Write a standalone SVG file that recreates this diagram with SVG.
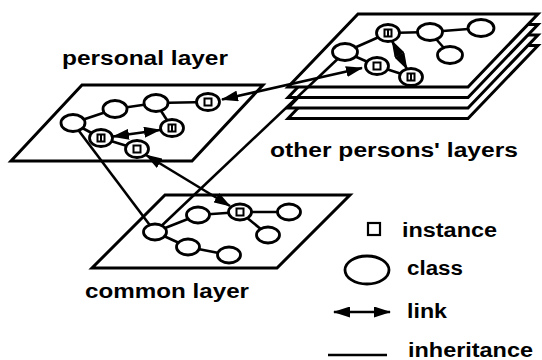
<svg xmlns="http://www.w3.org/2000/svg" width="542" height="360" viewBox="0 0 542 360">
  <defs>
    <marker id="head" viewBox="0 0 17 11" refX="16" refY="5.5" markerWidth="17" markerHeight="11" markerUnits="userSpaceOnUse" orient="auto-start-reverse">
      <path d="M0,0 L17,5.5 L0,11 z" fill="#000"/>
    </marker>
  </defs>
  <style>
    .sheet { fill: #fff; stroke: #000; stroke-width: 3; stroke-linejoin: miter; }
    .inh { stroke: #000; stroke-width: 2.6; fill: none; }
    .lnk { stroke: #000; stroke-width: 2.6; fill: none; marker-start: url(#head); marker-end: url(#head); }
    .cls { fill: #fff; stroke: #000; stroke-width: 2.8; }
    .box { fill: none; stroke: #000; stroke-width: 2; }
    .lbl { font-family: "Liberation Sans", Arial, sans-serif; font-weight: bold; font-size: 20px; fill: #000; }
  </style>

  <!-- layer planes -->
  <g id="other-layers">
    <polygon class="sheet" points="358,45.5 538,45.5 468,118.5 288,118.5"/>
    <polygon class="sheet" points="358,35 538,35 468,108 288,108"/>
    <polygon class="sheet" points="358,24.5 538,24.5 468,97.5 288,97.5"/>
    <polygon class="sheet" points="358,14 538,14 468,87 288,87"/>
  </g>
  <g id="personal-layer">
    <polygon class="sheet" points="82,85 263,85 192,161 11,161"/>
  </g>
  <g id="common-layer">
    <polygon class="sheet" points="165,195 350,195 277,268 92,268"/>
  </g>

  <!-- inheritance and link connectors -->
  <g id="connectors">
    <line class="inh" x1="73" y1="123" x2="115" y2="109"/>
    <line class="inh" x1="115" y1="109" x2="156" y2="103"/>
    <line class="inh" x1="156" y1="103" x2="208" y2="102"/>
    <line class="inh" x1="156" y1="103" x2="172" y2="128"/>
    <line class="inh" x1="73" y1="123" x2="101" y2="138"/>
    <line class="inh" x1="101" y1="138" x2="137" y2="149"/>

    <line class="inh" x1="73" y1="123" x2="155" y2="232"/>
    <line class="inh" x1="345" y1="52" x2="155" y2="232"/>

    <line class="inh" x1="155" y1="232" x2="198" y2="215"/>
    <line class="inh" x1="198" y1="215" x2="240" y2="212"/>
    <line class="inh" x1="240" y1="212" x2="289" y2="212"/>
    <line class="inh" x1="240" y1="212" x2="268" y2="235"/>
    <line class="inh" x1="155" y1="232" x2="188" y2="247"/>
    <line class="inh" x1="188" y1="247" x2="229" y2="255"/>

    <line class="inh" x1="345" y1="52" x2="388" y2="33"/>
    <line class="inh" x1="388" y1="33" x2="430" y2="32"/>
    <line class="inh" x1="430" y1="32" x2="481" y2="28"/>
    <line class="inh" x1="430" y1="32" x2="450" y2="55"/>
    <line class="inh" x1="345" y1="52" x2="377" y2="66"/>
    <line class="inh" x1="377" y1="66" x2="411" y2="77"/>

    <line class="lnk" x1="222" y1="99.5" x2="362" y2="68"/>
    <line class="lnk" x1="113" y1="136.5" x2="160" y2="130"/>
    <line class="lnk" x1="146" y1="155" x2="230" y2="206"/>
    <line class="lnk" x1="392" y1="41" x2="407" y2="69"/>
  </g>

  <!-- personal layer nodes -->
  <g id="p-class-1"><ellipse class="cls" cx="73" cy="123" rx="12" ry="8.5"/></g>
  <g id="p-class-2"><ellipse class="cls" cx="115" cy="109" rx="12" ry="8.5"/></g>
  <g id="p-class-3"><ellipse class="cls" cx="156" cy="103" rx="12" ry="8.5"/></g>
  <g id="p-inst-1"><ellipse class="cls" cx="208" cy="102" rx="11.5" ry="8.5"/><rect class="box" x="204.5" y="98.5" width="7" height="7"/></g>
  <g id="p-inst-2"><ellipse class="cls" cx="172" cy="128" rx="11.5" ry="8.5"/><rect class="box" x="168.5" y="124.5" width="7" height="7"/><line class="box" x1="172" y1="124.5" x2="172" y2="131.5"/></g>
  <g id="p-inst-3"><ellipse class="cls" cx="101" cy="138" rx="11.5" ry="8.5"/><rect class="box" x="97.5" y="134.5" width="7" height="7"/><line class="box" x1="101" y1="134.5" x2="101" y2="141.5"/></g>
  <g id="p-inst-4"><ellipse class="cls" cx="137" cy="149" rx="11.5" ry="8.5"/><rect class="box" x="133.5" y="145.5" width="7" height="7"/></g>

  <!-- other persons' layer nodes -->
  <g id="o-class-1"><ellipse class="cls" cx="345" cy="52" rx="12.5" ry="8.5"/></g>
  <g id="o-class-2"><ellipse class="cls" cx="430" cy="32" rx="12.5" ry="8.5"/></g>
  <g id="o-class-3"><ellipse class="cls" cx="481" cy="28" rx="13" ry="8.5"/></g>
  <g id="o-class-4"><ellipse class="cls" cx="450" cy="55" rx="12.5" ry="8.5"/></g>
  <g id="o-inst-1"><ellipse class="cls" cx="388" cy="33" rx="11.5" ry="8.5"/><rect class="box" x="384.5" y="29.5" width="7" height="7"/><line class="box" x1="388" y1="29.5" x2="388" y2="36.5"/></g>
  <g id="o-inst-2"><ellipse class="cls" cx="377" cy="66" rx="11.5" ry="8.5"/><rect class="box" x="373.5" y="62.5" width="7" height="7"/></g>
  <g id="o-inst-3"><ellipse class="cls" cx="411" cy="77" rx="11.5" ry="8.5"/><rect class="box" x="407.5" y="73.5" width="7" height="7"/><line class="box" x1="411" y1="73.5" x2="411" y2="80.5"/></g>

  <!-- common layer nodes -->
  <g id="c-class-1"><ellipse class="cls" cx="155" cy="232" rx="11.5" ry="8"/></g>
  <g id="c-class-2"><ellipse class="cls" cx="198" cy="215" rx="11.5" ry="8"/></g>
  <g id="c-class-3"><ellipse class="cls" cx="289" cy="212" rx="11.5" ry="8"/></g>
  <g id="c-class-4"><ellipse class="cls" cx="268" cy="235" rx="11.5" ry="8"/></g>
  <g id="c-class-5"><ellipse class="cls" cx="188" cy="247" rx="11.5" ry="8"/></g>
  <g id="c-class-6"><ellipse class="cls" cx="229" cy="255" rx="11.5" ry="8"/></g>
  <g id="c-inst-1"><ellipse class="cls" cx="240" cy="212" rx="11.5" ry="8"/><rect class="box" x="236.5" y="208.5" width="7" height="7"/></g>

  <!-- layer titles -->
  <text class="lbl" x="62" y="65" textLength="166" lengthAdjust="spacingAndGlyphs">personal  layer</text>
  <text class="lbl" x="270" y="157" textLength="248" lengthAdjust="spacingAndGlyphs">other persons' layers</text>
  <text class="lbl" x="85" y="298" textLength="164" lengthAdjust="spacingAndGlyphs">common  layer</text>

  <!-- legend -->
  <g id="legend">
    <rect x="368" y="223" width="12" height="12" fill="none" stroke="#000" stroke-width="2.2"/>
    <text class="lbl" x="402" y="237" textLength="95" lengthAdjust="spacingAndGlyphs">instance</text>
    <ellipse class="cls" cx="367" cy="270" rx="22" ry="14"/>
    <text class="lbl" x="407" y="275" textLength="56" lengthAdjust="spacingAndGlyphs">class</text>
    <line class="lnk" x1="334" y1="312" x2="390" y2="312"/>
    <text class="lbl" x="407" y="318" textLength="40" lengthAdjust="spacingAndGlyphs">link</text>
    <line class="inh" x1="328" y1="355" x2="387" y2="355"/>
    <text class="lbl" x="408" y="357" textLength="125" lengthAdjust="spacingAndGlyphs">inheritance</text>
  </g>
</svg>
